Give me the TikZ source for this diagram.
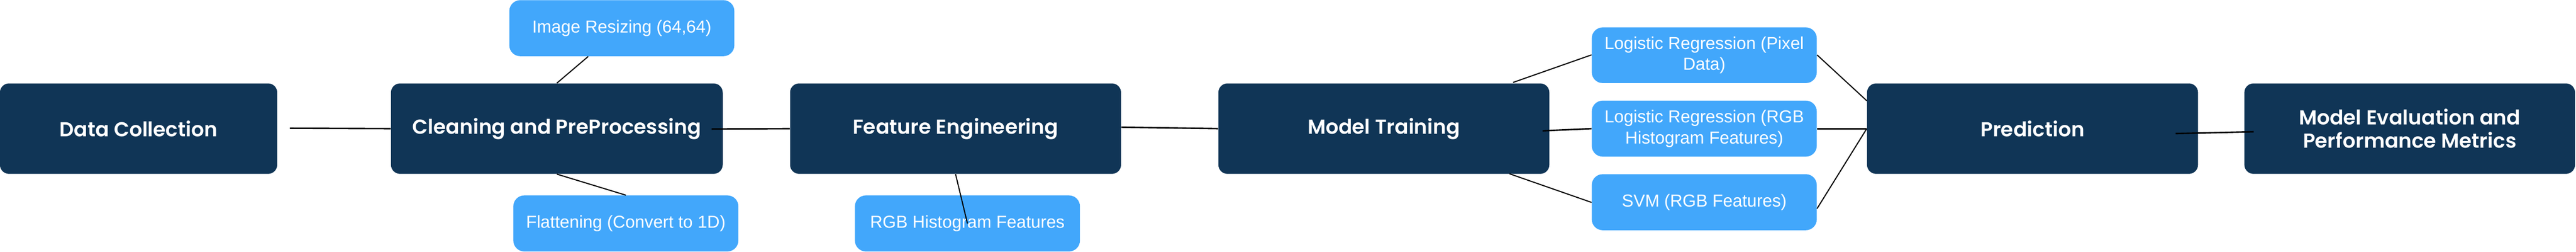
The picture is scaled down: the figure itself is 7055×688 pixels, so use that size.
\documentclass[tikz,border=0pt]{standalone}
\usepackage{fontspec}
\usepackage{tikz}
\usetikzlibrary{calc}
\newfontfamily\stagefont{Poppins}[UprightFont=* SemiBold]
\newfontfamily\detailfont{Liberation Sans}
\definecolor{navy}{HTML}{103556}
\definecolor{sky}{HTML}{42A7FB}

\begin{document}
\begin{tikzpicture}[x=0.01cm, y=-0.01cm,
  stage/.style={fill=navy, text=white, rounded corners=0.25cm, inner sep=0pt,
    minimum width=9.06cm, minimum height=2.47cm, align=center,
    font=\stagefont\fontsize{15.7}{18.2}\selectfont},
  detail/.style={fill=sky, text=white, rounded corners=0.3cm, inner sep=0pt,
    minimum width=6.16cm, minimum height=1.53cm, align=center,
    font=\detailfont\fontsize{13.5}{16.2}\selectfont},
  link/.style={line width=1.15pt},
  sublink/.style={line width=0.85pt}]
\useasboundingbox (0,0) rectangle (7055,688);

%main stages
\node[stage, minimum width=7.59cm] (collect) at (379.5,351.5) {Data Collection};
\node[stage, minimum width=9.08cm] (clean) at (1525,351.5) {Cleaning and PreProcessing};
\node[stage] (feature) at (2617,351.5) {Feature Engineering};
\node[stage] (train) at (3790,351.5) {Model Training};
\node[stage] (predict) at (5566.5,351.5) {Prediction};
\node[stage, minimum width=9.05cm] (evaluate) at (6599.5,351.5) {Model Evaluation and\\Performance Metrics};

%details
\node[detail] (resize) at (1703,77) {Image Resizing (64,64)};
\node[detail] (flatten) at (1714,610.5) {Flattening (Convert to 1D)};
\node[detail] (histogram) at (2649.5,610.5) {RGB Histogram Features};
\node[detail, minimum height=1.52cm] (lrpixel) at (4667.5,151) {Logistic Regression (Pixel\\Data)};
\node[detail] (lrrgb) at (4667.5,351.5) {Logistic Regression (RGB\\Histogram Features)};
\node[detail] (svm) at (4667.5,552.5) {SVM (RGB Features)};

%links
\draw[link] ($(collect.east)+(34,-1)$) -- (clean.west);
\draw[sublink] (clean.north) -- ($(resize.south)+(-92,0)$);
\draw[sublink] (clean.south) -- (flatten.north);
\draw[link] ($(clean.east)+(-31,1)$) -- (feature.west);
\draw[sublink] (feature.south) -- (histogram.center);
\draw[link] ($(feature.east)+(0,-4)$) -- (train.west);
\draw[sublink] ($(train.north east)+(-100,-2)$) -- ($(lrpixel.west)+(0,-1)$);
\draw[link] ($(train.east)+(-19,6)$) -- (lrrgb.west);
\draw[sublink] ($(train.south east)+(-110,-1)$) -- ($(svm.west)+(0,0.5)$);
\draw[sublink] ($(lrpixel.east)+(0,-1)$) -- ($(predict.north west)+(0,48)$);
\draw[link] (lrrgb.east) -- (predict.west);
\draw[sublink] ($(svm.east)+(0,17.5)$) -- (predict.west);
\draw[link] ($(predict.east)+(-62,13.5)$) -- ($(evaluate.west)+(26,8.5)$);
\end{tikzpicture}
\end{document}
